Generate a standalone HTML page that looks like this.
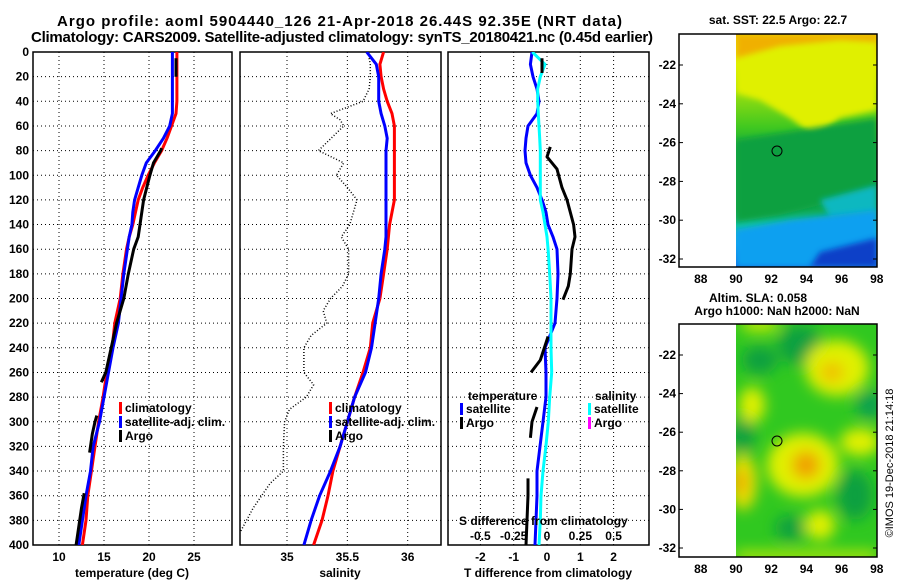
<!DOCTYPE html>
<html><head><meta charset="utf-8">
<style>
html,body{margin:0;padding:0;background:#fff;}
svg{display:block;font-family:"Liberation Sans",sans-serif;font-weight:bold;}
</style></head>
<body>
<svg id="chart" width="900" height="580" viewBox="0 0 900 580" xmlns="http://www.w3.org/2000/svg">
<defs>
<clipPath id="c1"><rect x="33" y="52" width="199" height="493"/></clipPath>
<clipPath id="c2"><rect x="240" y="52" width="201" height="493"/></clipPath>
<clipPath id="c3"><rect x="448" y="52" width="201" height="493"/></clipPath>
<clipPath id="m1"><rect x="736" y="34" width="141" height="233"/></clipPath>
<clipPath id="m2"><rect x="736" y="324" width="141" height="233"/></clipPath>
<filter id="bl" x="-50%" y="-50%" width="200%" height="200%"><feGaussianBlur stdDeviation="7"/></filter>
<filter id="bl2" x="-50%" y="-50%" width="200%" height="200%"><feGaussianBlur stdDeviation="3"/></filter>
<linearGradient id="sstg" x1="0" y1="0" x2="0" y2="1">
<stop offset="0" stop-color="#f0a000"/><stop offset="0.06" stop-color="#f0d000"/>
<stop offset="0.13" stop-color="#e0f000"/><stop offset="0.4" stop-color="#40c820"/>
<stop offset="0.5" stop-color="#10a840"/><stop offset="0.75" stop-color="#10a850"/>
<stop offset="0.82" stop-color="#10c0a0"/><stop offset="0.9" stop-color="#10a8f0"/>
<stop offset="1" stop-color="#1060e0"/></linearGradient>
</defs>
<text x="57" y="26" font-size="15" textLength="565">Argo profile: aoml 5904440_126 21-Apr-2018 26.44S 92.35E (NRT data)</text>
<text x="31" y="42" font-size="15" textLength="622">Climatology: CARS2009. Satellite-adjusted climatology: synTS_20180421.nc (0.45d earlier)</text>
<g id="panels"></g>
<g id="maps">
<text x="778" y="24" font-size="12" text-anchor="middle">sat. SST: 22.5 Argo: 22.7</text>
<g clip-path="url(#m1)">
<rect x="736" y="34" width="141" height="233" fill="url(#sstg)"/>
<polygon points="736,34 877,34 877,110 840,118 815,137 790,118 760,100 736,93" fill="#e0f000" filter="url(#bl2)"/>
<polygon points="736,34 877,34 877,42 840,40 780,46 736,58" fill="#f0b000" filter="url(#bl2)"/>
<polygon points="736,140 877,118 877,195 820,205 780,215 736,222" fill="#10a040" filter="url(#bl2)"/>
<polygon points="820,200 877,185 877,215 830,218" fill="#10b8c0" filter="url(#bl2)"/>
<polygon points="736,230 790,220 877,210 877,267 736,267" fill="#10a0f0" filter="url(#bl2)"/>
<polygon points="820,252 877,238 877,267 810,267" fill="#1040c8" filter="url(#bl2)"/>
</g>
<rect x="679" y="34" width="198" height="233" fill="none" stroke="#000" stroke-width="1.5"/>
<circle cx="777" cy="151" r="5" fill="none" stroke="#000"/>
<text x="758" y="302" font-size="12" text-anchor="middle">Altim. SLA: 0.058</text>
<text x="777" y="315" font-size="12" text-anchor="middle">Argo h1000: NaN h2000: NaN</text>
<g clip-path="url(#m2)">
<rect x="736" y="324" width="141" height="233" fill="#30c820"/>
<g filter="url(#bl)">
<ellipse cx="800" cy="345" rx="22" ry="20" fill="#10a040"/>
<ellipse cx="760" cy="360" rx="18" ry="14" fill="#10a040"/>
<ellipse cx="743" cy="435" rx="12" ry="18" fill="#10a040"/>
<ellipse cx="870" cy="405" rx="14" ry="14" fill="#10a050"/>
<ellipse cx="855" cy="495" rx="18" ry="25" fill="#10a040"/>
<ellipse cx="790" cy="528" rx="15" ry="12" fill="#10a040"/>
<ellipse cx="760" cy="325" rx="20" ry="6" fill="#e0f000"/>
<ellipse cx="837" cy="368" rx="32" ry="28" fill="#e0f000"/>
<ellipse cx="832" cy="372" rx="12" ry="10" fill="#f0c000"/>
<ellipse cx="752" cy="405" rx="13" ry="18" fill="#e0f000"/>
<ellipse cx="803" cy="465" rx="36" ry="32" fill="#e0f000"/>
<ellipse cx="806" cy="465" rx="14" ry="14" fill="#f0a000"/>
<ellipse cx="743" cy="482" rx="14" ry="28" fill="#e8e000"/>
<ellipse cx="740" cy="482" rx="6" ry="12" fill="#f0a000"/>
<ellipse cx="820" cy="525" rx="15" ry="15" fill="#e0f000"/>
<ellipse cx="860" cy="442" rx="20" ry="14" fill="#e0f000"/>
<rect x="736" y="552" width="141" height="8" fill="#e0f000"/>
</g></g>
<rect x="679" y="324" width="198" height="233" fill="none" stroke="#000" stroke-width="1.5"/>
<circle cx="777" cy="441" r="5" fill="none" stroke="#000"/>
<text transform="translate(893,463) rotate(-90)" font-size="11" font-weight="normal" text-anchor="middle">©IMOS 19-Dec-2018 21:14:18</text>
<g id="maplabels"></g>
</g>
</svg>
<script>
const NS="http://www.w3.org/2000/svg";
const depths=[0,10,20,30,40,50,60,70,80,90,100,110,120,130,140,150,160,180,200,220,240,260,280,300,320,340,360,380,400];
const tempClim=[23.1,23.1,23.1,23.1,23.1,23.0,22.5,22.0,21.4,20.6,19.9,19.3,18.8,18.5,18.2,17.8,17.5,17.1,16.8,16.2,15.9,15.3,14.9,14.4,14.0,13.6,13.2,13.0,12.6];
const tempSat=[22.6,22.6,22.6,22.6,22.6,22.6,22.3,21.6,20.7,19.7,19.2,18.8,18.4,18.2,18.1,17.8,17.6,17.2,16.9,16.6,16.0,15.5,15.0,14.5,13.8,13.5,13.0,12.6,12.2];
const argoDepths=[5,10,15,20,null,78,80,90,100,120,140,150,160,180,200,220,240,260,268,null,295,300,310,325,null,358,370,380,390,400];
const argoTemp=[23.0,23.0,23.0,23.0,null,21.4,21.3,20.5,20.1,19.4,19.0,18.8,18.3,17.7,17.2,16.4,15.8,15.2,14.7,null,14.2,14.0,13.7,13.4,null,12.8,12.5,12.3,12.1,11.9];
const salClim=[35.80,35.77,35.78,35.80,35.83,35.87,35.89,35.89,35.89,35.89,35.89,35.89,35.89,35.87,35.85,35.84,35.83,35.80,35.77,35.71,35.69,35.63,35.56,35.50,35.44,35.38,35.34,35.29,35.22];
const salSat=[35.66,35.74,35.76,35.76,35.76,35.78,35.81,35.83,35.82,35.82,35.82,35.82,35.82,35.82,35.82,35.82,35.81,35.78,35.76,35.73,35.70,35.65,35.56,35.50,35.44,35.36,35.27,35.20,35.14];
const argoSalDepths=[5,10,20,30,40,50,55,60,80,90,100,110,120,140,150,160,180,190,200,210,220,230,240,260,270,280,290,300,320,340,350,370,390,400];
const argoSal=[35.68,35.69,35.69,35.68,35.63,35.36,35.44,35.47,35.26,35.47,35.41,35.50,35.58,35.52,35.45,35.51,35.51,35.46,35.36,35.30,35.33,35.20,35.14,35.14,35.22,35.16,35.02,34.98,34.97,34.97,34.86,34.72,34.61,34.59];
const dTSat=[-0.45,-0.5,-0.42,-0.3,-0.24,-0.3,-0.57,-0.63,-0.66,-0.63,-0.5,-0.3,-0.15,-0.03,0.03,0.18,0.3,0.33,0.3,0.24,-0.06,-0.03,-0.03,-0.12,-0.21,-0.3,-0.3,-0.33,-0.36];
const dSSat=[-0.11,-0.015,-0.05,-0.07,-0.07,-0.065,-0.06,-0.055,-0.05,-0.05,-0.05,-0.05,-0.05,-0.03,-0.015,0,0.008,0.02,0.03,0.03,0.03,0.035,0.02,0.01,-0.008,-0.03,-0.045,-0.05,-0.06];
const argoDTDepths=[5,10,17,null,77,85,95,110,120,140,150,160,180,190,201,null,231,250,260,null,288,300,313,null,346,360,380,400];
const argoDT=[-0.15,-0.15,-0.15,null,0.1,0.0,0.3,0.45,0.6,0.8,0.84,0.75,0.7,0.64,0.48,null,0.03,-0.2,-0.48,null,-0.3,-0.45,-0.5,null,-0.57,-0.57,-0.6,-0.63];
const depthTicks=[0,20,40,60,80,100,120,140,160,180,200,220,240,260,280,300,320,340,360,380,400];
const tempTicks=[10,15,20,25], salTicks=[35,35.5,36], dTTicks=[-2,-1,0,1,2];
const dSTickLabels=["-0.5","-0.25","0","0.25","0.5"];
const latTicks=[-22,-24,-26,-28,-30,-32], lonTicks=[88,90,92,94,96,98];

const Y=d=>52+d*493/400;
const X1=t=>59+(t-10)*9;
const X2=s=>287+(s-35)*120.7;
const X3=t=>547+t*33.3;
const XS=s=>547+s*133.3;
const root=document.getElementById('panels');
function el(tag,attrs,parent){const e=document.createElementNS(NS,tag);for(const k in attrs)e.setAttribute(k,attrs[k]);(parent||root).appendChild(e);return e;}
function pathD(xs,ds,fx){let d='',pen=false;for(let i=0;i<xs.length;i++){if(xs[i]===null||ds[i]===null){pen=false;continue;}d+=(pen?'L':'M')+fx(xs[i]).toFixed(1)+','+Y(ds[i]).toFixed(1);pen=true;}return d;}

const panels=[{x0:33,w:199,clip:'c1',fx:X1,ticks:tempTicks,lab:'temperature (deg C)',labx:132,name:'temperature'},
{x0:240,w:201,clip:'c2',fx:X2,ticks:salTicks,lab:'salinity',labx:340,name:'salinity'},
{x0:448,w:201,clip:'c3',fx:X3,ticks:dTTicks,lab:'T difference from climatology',labx:548,name:'difference'}];
panels.forEach((p,pi)=>{
  const g=el('g',{});
  
  
  depthTicks.forEach(d=>{
    const l=el('line',{x1:p.x0,x2:p.x0+p.w,y1:Y(d),y2:Y(d),stroke:'#000','stroke-dasharray':'1 3'},g);
    
    
  });
  p.ticks.forEach(t=>{
    const l=el('line',{x1:p.fx(t),x2:p.fx(t),y1:52,y2:545,stroke:'#000','stroke-dasharray':'1 3'},g);
    
    
    const tx=el('text',{x:p.fx(t),y:561,'font-size':12,'text-anchor':'middle'},g);
    tx.textContent=String(t);
    
    
  });
  const fr=el('rect',{x:p.x0,y:52,width:p.w,height:493,fill:'none',stroke:'#000','stroke-width':1.5},g);
  
  
  const xl=el('text',{x:p.labx,y:577,'font-size':12,'text-anchor':'middle'},g);
  xl.textContent=p.lab;
  
  
});
depthTicks.forEach(d=>{
  const t=el('text',{x:29,y:Y(d)+4,'font-size':12,'text-anchor':'end'});
  t.textContent=String(d);
  
  
});
function line(d,color,w,clip,name,dash){
  const p=el('path',{d:d,fill:'none',stroke:color,'stroke-width':w,'clip-path':'url(#'+clip+')','stroke-linejoin':'round'});
  if(dash)p.setAttribute('stroke-dasharray',dash);
  
  
}
line(pathD(tempClim,depths,X1),'#f00',3,'c1','temp-climatology-line');
line(pathD(tempSat,depths,X1),'#00f',3,'c1','temp-satellite-line');
line(pathD(argoTemp,argoDepths,X1),'#000',3,'c1','temp-argo-line');
line(pathD(salClim,depths,X2),'#f00',3,'c2','sal-climatology-line');
line(pathD(salSat,depths,X2),'#00f',3,'c2','sal-satellite-line');
line(pathD(argoSal,argoSalDepths,X2),'#000',1.5,'c2','sal-argo-line','1 2');
line(pathD(dTSat,depths,X3),'#00f',3,'c3','dT-satellite-line');
line(pathD(dSSat,depths,XS),'#0ff',3,'c3','dS-satellite-line');
line(pathD(argoDT,argoDTDepths,X3),'#000',3,'c3','dT-argo-line');

function legend(x,y,color,label,name){
  const r=el('rect',{x:x,y:y-10,width:3,height:12,fill:color});
  
  
  const t=el('text',{x:x+6,y:y,'font-size':12});
  t.textContent=label;
  
  
}
legend(119,412,'#f00','climatology','legend-temp-climatology');
legend(119,426,'#00f','satellite-adj. clim.','legend-temp-satellite');
legend(119,440,'#000','Argo','legend-temp-argo');
legend(329,412,'#f00','climatology','legend-sal-climatology');
legend(329,426,'#00f','satellite-adj. clim.','legend-sal-satellite');
legend(329,440,'#000','Argo','legend-sal-argo');
legend(460,413,'#00f','satellite','legend-dT-satellite');
legend(460,427,'#000','Argo','legend-dT-argo');
legend(588,413,'#0ff','satellite','legend-dS-satellite');
legend(588,427,'#f0f','Argo','legend-dS-argo');
[['temperature',468,400,'legend-temperature-heading'],['salinity',595,400,'legend-salinity-heading'],['S difference from climatology',459,525,'dS-axis-title']].forEach(a=>{
  const t=el('text',{x:a[1],y:a[2],'font-size':12});
  t.textContent=a[0];
  
  
});
[-0.5,-0.25,0,0.25,0.5].forEach((s,i)=>{
  const t=el('text',{x:XS(s),y:540,'font-size':12,'text-anchor':'middle'});
  t.textContent=dSTickLabels[i];
  
  
});
const ml=document.getElementById('maplabels');
[[65,19.4,279],[355,19.3,569]].forEach((m,mi)=>{
  latTicks.forEach(lat=>{
    const y=m[0]+(-22-lat)*m[1];
    const t=el('text',{x:676,y:y+4,'font-size':12,'text-anchor':'end'},ml);
    t.textContent=String(lat);
    
    
    el('line',{x1:679,x2:683,y1:y,y2:y,stroke:'#000'},ml);
    el('line',{x1:873,x2:877,y1:y,y2:y,stroke:'#000'},ml);
  });
  lonTicks.forEach(lon=>{
    const x=736+(lon-90)*17.6;
    const t=el('text',{x:x,y:m[2]+4,'font-size':12,'text-anchor':'middle'},ml);
    t.textContent=String(lon);
    
    
  });
});
</script>
</body></html>
